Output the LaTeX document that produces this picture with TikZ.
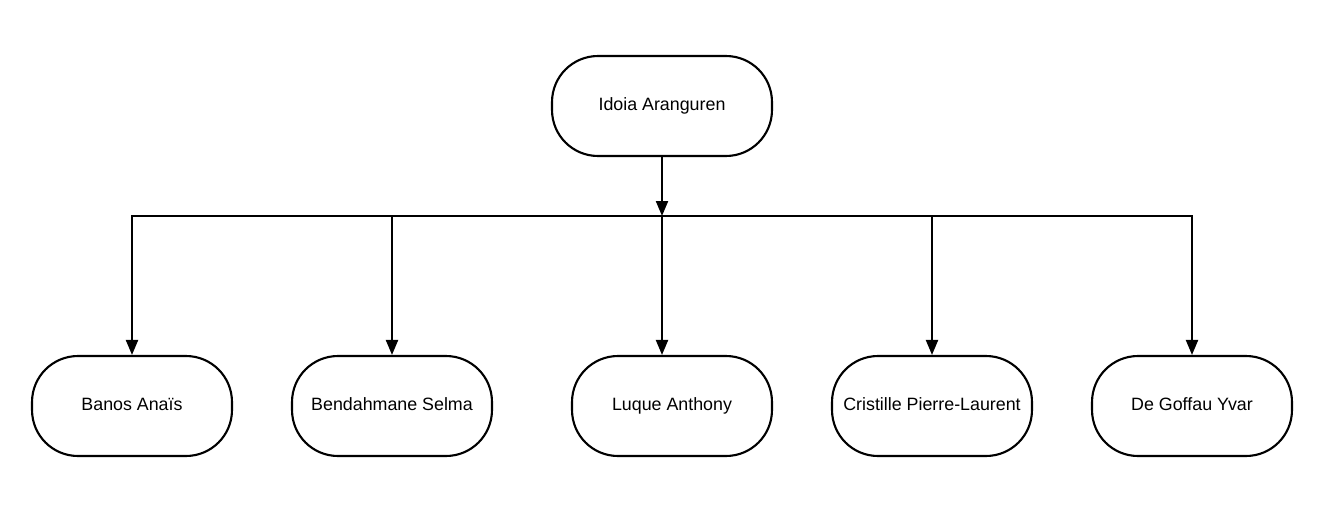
\documentclass[tikz,border=0pt]{standalone}
\usepackage{fontspec}
\setmainfont{Liberation Sans}
\usetikzlibrary{arrows.meta,positioning}

\tikzset{
    person/.style={draw, line width=1.2pt, rounded corners=0.92cm,
        minimum width=4cm, minimum height=2cm, align=center,
        text height=0.72em, text depth=0.2em,
        font=\fontsize{10.15pt}{12pt}\selectfont},
    link/.style={line width=1.2pt, -{Triangle[length=0.3cm, width=0.24cm]}}
}

\begin{document}
\begin{tikzpicture}[x=0.02cm, y=-0.02cm]
        \useasboundingbox (0,0) rectangle (1332,504);

        % capo e punto di smistamento
        \node[person, minimum width=4.4cm] (idoia) at (662,106) {Idoia Aranguren};
        \coordinate (hub) at (662,216);

        % membri del gruppo
        \node[person] (banos)     at (132,406)  {Banos Anaïs};
        \node[person] (bendahmane) at (392,406) {Bendahmane Selma};
        \node[person] (luque)     at (672,406)  {Luque Anthony};
        \node[person] (cristille) at (932,406)  {Cristille Pierre-Laurent};
        \node[person] (degoffau)  at (1192,406) {De Goffau Yvar};

        \draw[link] (idoia) -- (hub);
        \draw[link] (hub) -| (banos.north);
        \draw[link] (hub) -| (bendahmane.north);
        \draw[link] (hub) -- (hub |- luque.north);
        \draw[link] (hub) -| (cristille.north);
        \draw[link] (hub) -| (degoffau.north);
    \end{tikzpicture}
\end{document}
